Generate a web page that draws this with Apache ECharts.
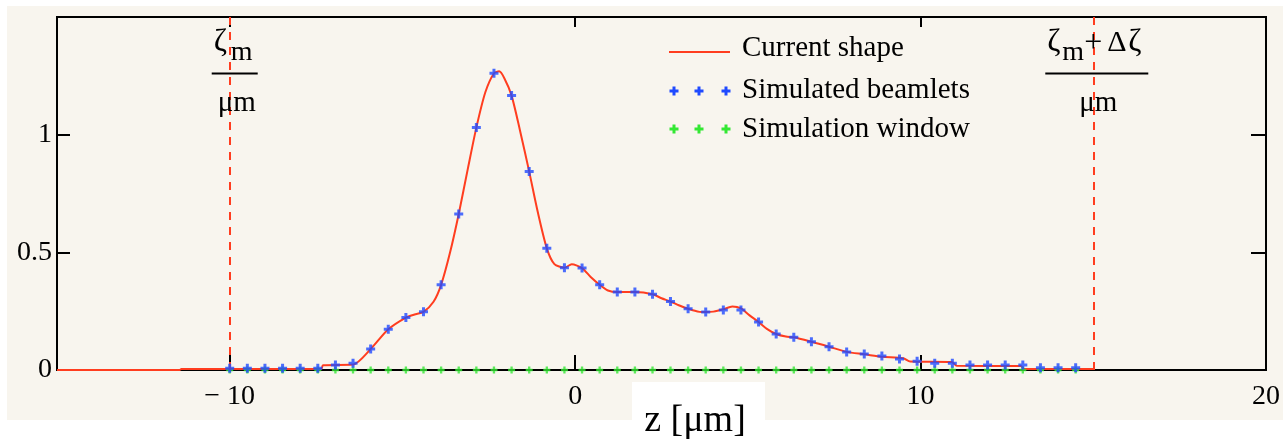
<!DOCTYPE html>
<html><head><meta charset="utf-8">
<script src="https://cdn.jsdelivr.net/npm/echarts@6/dist/echarts.min.js"></script>
<style>
html,body{margin:0;padding:0;background:#ffffff;}
#bg{position:absolute;left:7px;top:6px;width:1276px;height:414px;background:#f8f5ee;}
#chart{position:absolute;left:0;top:0;width:1283px;height:444px;}
</style></head><body>
<div id="bg"></div><div id="chart"></div>
<script>
// ---- data ----
const beamX = [-10, -9.49, -8.98, -8.47, -7.96, -7.45, -6.94, -6.43, -5.92, -5.41,
  -4.90, -4.39, -3.88, -3.37, -2.86, -2.35, -1.84, -1.33, -0.82, -0.31,
  0.20, 0.71, 1.22, 1.73, 2.24, 2.76, 3.27, 3.78, 4.29, 4.80,
  5.31, 5.82, 6.33, 6.84, 7.35, 7.86, 8.37, 8.88, 9.39, 9.90,
  10.41, 10.92, 11.43, 11.94, 12.45, 12.96, 13.47, 13.98, 14.49];
const beamY = [0.007, 0.007, 0.007, 0.007, 0.007, 0.007, 0.021, 0.029, 0.089, 0.173,
  0.223, 0.247, 0.362, 0.663, 1.030, 1.261, 1.166, 0.843, 0.517, 0.435,
  0.433, 0.362, 0.331, 0.331, 0.322, 0.291, 0.260, 0.246, 0.255, 0.255,
  0.204, 0.153, 0.139, 0.120, 0.099, 0.077, 0.068, 0.060, 0.047, 0.037,
  0.029, 0.029, 0.021, 0.021, 0.021, 0.021, 0.010, 0.010, 0.010];
const windowY = [0,0,0,0,0,0,0,0,0,0, 0,0,0,0,0,0,0,0,0,0, 0,0,0,0,0,0,0,0,0,0,
  0,0,0,0,0,0,0,0,0,0, 0,0,0,0,0,0,0,0,0];
const curveX = [-15, -11.45, -11.4, -7.35, -7.3, -6.43, -5.92, -5.41, -4.9, -4.65,
  -4.39, -4.1, -3.88, -3.62, -3.37, -3.1, -2.86, -2.6, -2.35, -2.2,
  -2.05, -1.84, -1.6, -1.33, -1.08, -0.82, -0.6, -0.31, -0.1, 0.2,
  0.45, 0.71, 0.95, 1.22, 1.73, 2.24, 2.5, 2.76, 3.0, 3.27,
  3.6, 3.78, 4.0, 4.29, 4.55, 4.8, 5.05, 5.31, 5.55, 5.82,
  6.1, 6.33, 6.84, 7.35, 7.86, 8.37, 8.88, 9.5, 9.7, 10.9,
  11.05, 12.9, 13.0, 15];
const curveY = [0, 0, 0.004, 0.004, 0.02, 0.023, 0.089, 0.173, 0.223, 0.236,
  0.247, 0.29, 0.362, 0.50, 0.663, 0.86, 1.03, 1.18, 1.261, 1.269,
  1.24, 1.166, 1.02, 0.843, 0.67, 0.517, 0.45, 0.435, 0.449, 0.433,
  0.395, 0.362, 0.338, 0.331, 0.331, 0.322, 0.305, 0.291, 0.275, 0.26,
  0.247, 0.246, 0.248, 0.258, 0.27, 0.262, 0.232, 0.204, 0.175, 0.153,
  0.142, 0.139, 0.12, 0.099, 0.077, 0.067, 0.056, 0.05, 0.036, 0.034,
  0.018, 0.017, 0.004, 0.004];
const xTickLabels = [-10, 0, 10, 20];
const xTicks = [-10, 0, 10];
const yTickLabels = [0, 0.5, 1];
const yTicks = [0.5, 1];
const windowEdges = [-10, 15];
const seriesNames = ['Current shape', 'Simulated beamlets', 'Simulation window'];
const xTitle = 'z [μm]';

// ---- chart ----
const RED = '#ff3d1f', BLUE = '#1f4aff', GREEN = '#33e833';
const FONT = 'Liberation Serif';
const PLUS = 'path://M3,0h3v3h3v3h-3v3h-3v-3h-3v-3h3z';
const chart = echarts.init(document.getElementById('chart'), null, {renderer: 'canvas'});

const zip = (a, b) => a.map((v, i) => [v, b[i]]);
const minusFmt = v => (v < 0 ? '\u2212 ' + Math.abs(v) : String(v));
const tickStyle = {color: '#000', width: 2};

const option = {
  animation: false,
  backgroundColor: 'transparent',
  grid: {left: 57, top: 17, width: 1210, height: 353, show: true,
    borderColor: '#000', borderWidth: 2, backgroundColor: 'transparent'},
  xAxis: [{
    type: 'value', min: -15, max: 20, position: 'bottom',
    axisLine: {show: false, onZero: false}, splitLine: {show: false},
    axisTick: {inside: true, length: 15, customValues: xTicks, lineStyle: tickStyle},
    axisLabel: {customValues: xTickLabels, margin: 13, color: '#000',
      fontFamily: FONT, fontSize: 28, formatter: minusFmt}
  }, {
    type: 'value', min: -15, max: 20, position: 'top',
    axisLine: {show: false, onZero: false}, splitLine: {show: false},
    axisTick: {inside: true, length: 10, customValues: xTicks, lineStyle: tickStyle},
    axisLabel: {show: false, customValues: xTicks}
  }],
  yAxis: [{
    type: 'value', min: 0, max: 1.5, position: 'left',
    axisLine: {show: false, onZero: false}, splitLine: {show: false},
    axisTick: {inside: true, length: 13, customValues: yTicks, lineStyle: tickStyle},
    axisLabel: {customValues: yTickLabels, margin: 5, color: '#000',
      fontFamily: FONT, fontSize: 28, padding: [8, 0, 0, 0]}
  }, {
    type: 'value', min: 0, max: 1.5, position: 'right',
    axisLine: {show: false, onZero: false}, splitLine: {show: false},
    axisTick: {inside: true, length: 15, customValues: yTicks, lineStyle: tickStyle},
    axisLabel: {show: false, customValues: yTicks}
  }],
  series: [{
    name: seriesNames[0], type: 'line', data: zip(curveX, curveY), clip: false,
    showSymbol: false, symbol: 'none', z: 3, smooth: 0.25,
    lineStyle: {color: RED, width: 2}, itemStyle: {color: RED},
    markLine: {silent: true, symbol: ['none', 'none'], label: {show: false},
      lineStyle: {color: RED, width: 2, type: [8, 7]},
      data: windowEdges.map(v => ({xAxis: v}))}
  }, {
    name: seriesNames[2], type: 'scatter', data: zip(beamX, windowY), clip: false,
    symbol: PLUS, symbolSize: 7, z: 4, itemStyle: {color: GREEN}
  }, {
    name: seriesNames[1], type: 'scatter', data: zip(beamX, beamY), clip: false,
    symbol: PLUS, symbolSize: 9, z: 5, itemStyle: {color: BLUE}
  }]
};
chart.setOption(option);

// ---- annotations, legend, axis title ----
const L = chart.convertToPixel({xAxisIndex: 0}, windowEdges[0]);
const R = chart.convertToPixel({xAxisIndex: 0}, windowEdges[1]);
const txt = (x, y, s, align, size) => ({type: 'text', x: x, y: y, z: 20,
  style: {text: s, fill: '#000', font: (size || 28) + 'px "' + FONT + '"',
    textAlign: align || 'left', textVerticalAlign: 'middle'}});
const hline = (x1, x2, y, color, w) => ({type: 'line', z: 20,
  shape: {x1: x1, y1: y, x2: x2, y2: y}, style: {stroke: color || '#000', lineWidth: w || 2}});
const plus = (cx, cy, color) => ({type: 'polygon', z: 20,
  shape: {points: [[cx - 1.5, cy - 4.5], [cx + 1.5, cy - 4.5], [cx + 1.5, cy - 1.5], [cx + 4.5, cy - 1.5],
    [cx + 4.5, cy + 1.5], [cx + 1.5, cy + 1.5], [cx + 1.5, cy + 4.5], [cx - 1.5, cy + 4.5],
    [cx - 1.5, cy + 1.5], [cx - 4.5, cy + 1.5], [cx - 4.5, cy - 1.5], [cx - 1.5, cy - 1.5]]},
  style: {fill: color}});

const g = [];
// left: ζm / μm
g.push(txt(L - 16, 43, 'ζ', 'left', 32));
g.push(txt(L + 1, 53, 'm', 'left', 28));
g.push(hline(L - 18, L + 28, 73.5));
g.push(txt(L + 7, 103, 'μm', 'center', 29));
// right: ζm+Δζ / μm
g.push(txt(R - 46, 43, 'ζ', 'left', 32));
g.push(txt(R - 31, 53, 'm', 'left', 28));
g.push(txt(R - 9, 44, '+', 'left', 32));
g.push(txt(R + 14, 43, 'Δ', 'left', 30));
g.push(txt(R + 35, 43, 'ζ', 'left', 32));
g.push(hline(R - 48, R + 55, 73.5));
g.push(txt(R + 5, 103, 'μm', 'center', 29));
// legend
g.push(hline(669, 730, 52, RED, 2));
[674, 699, 726].forEach(x => { g.push(plus(x, 91, BLUE)); g.push(plus(x, 129, GREEN)); });
g.push(txt(742, 48, seriesNames[0], 'left', 29));
g.push(txt(742, 90, seriesNames[1], 'left', 29));
g.push(txt(742, 129, seriesNames[2], 'left', 29));
// axis title in white box
g.push({type: 'rect', z: 19, shape: {x: 632, y: 382, width: 133, height: 62}, style: {fill: '#ffffff'}});
g.push(txt(695, 421, xTitle, 'center', 38));

chart.setOption({graphic: {elements: g}});
</script>
</body></html>
